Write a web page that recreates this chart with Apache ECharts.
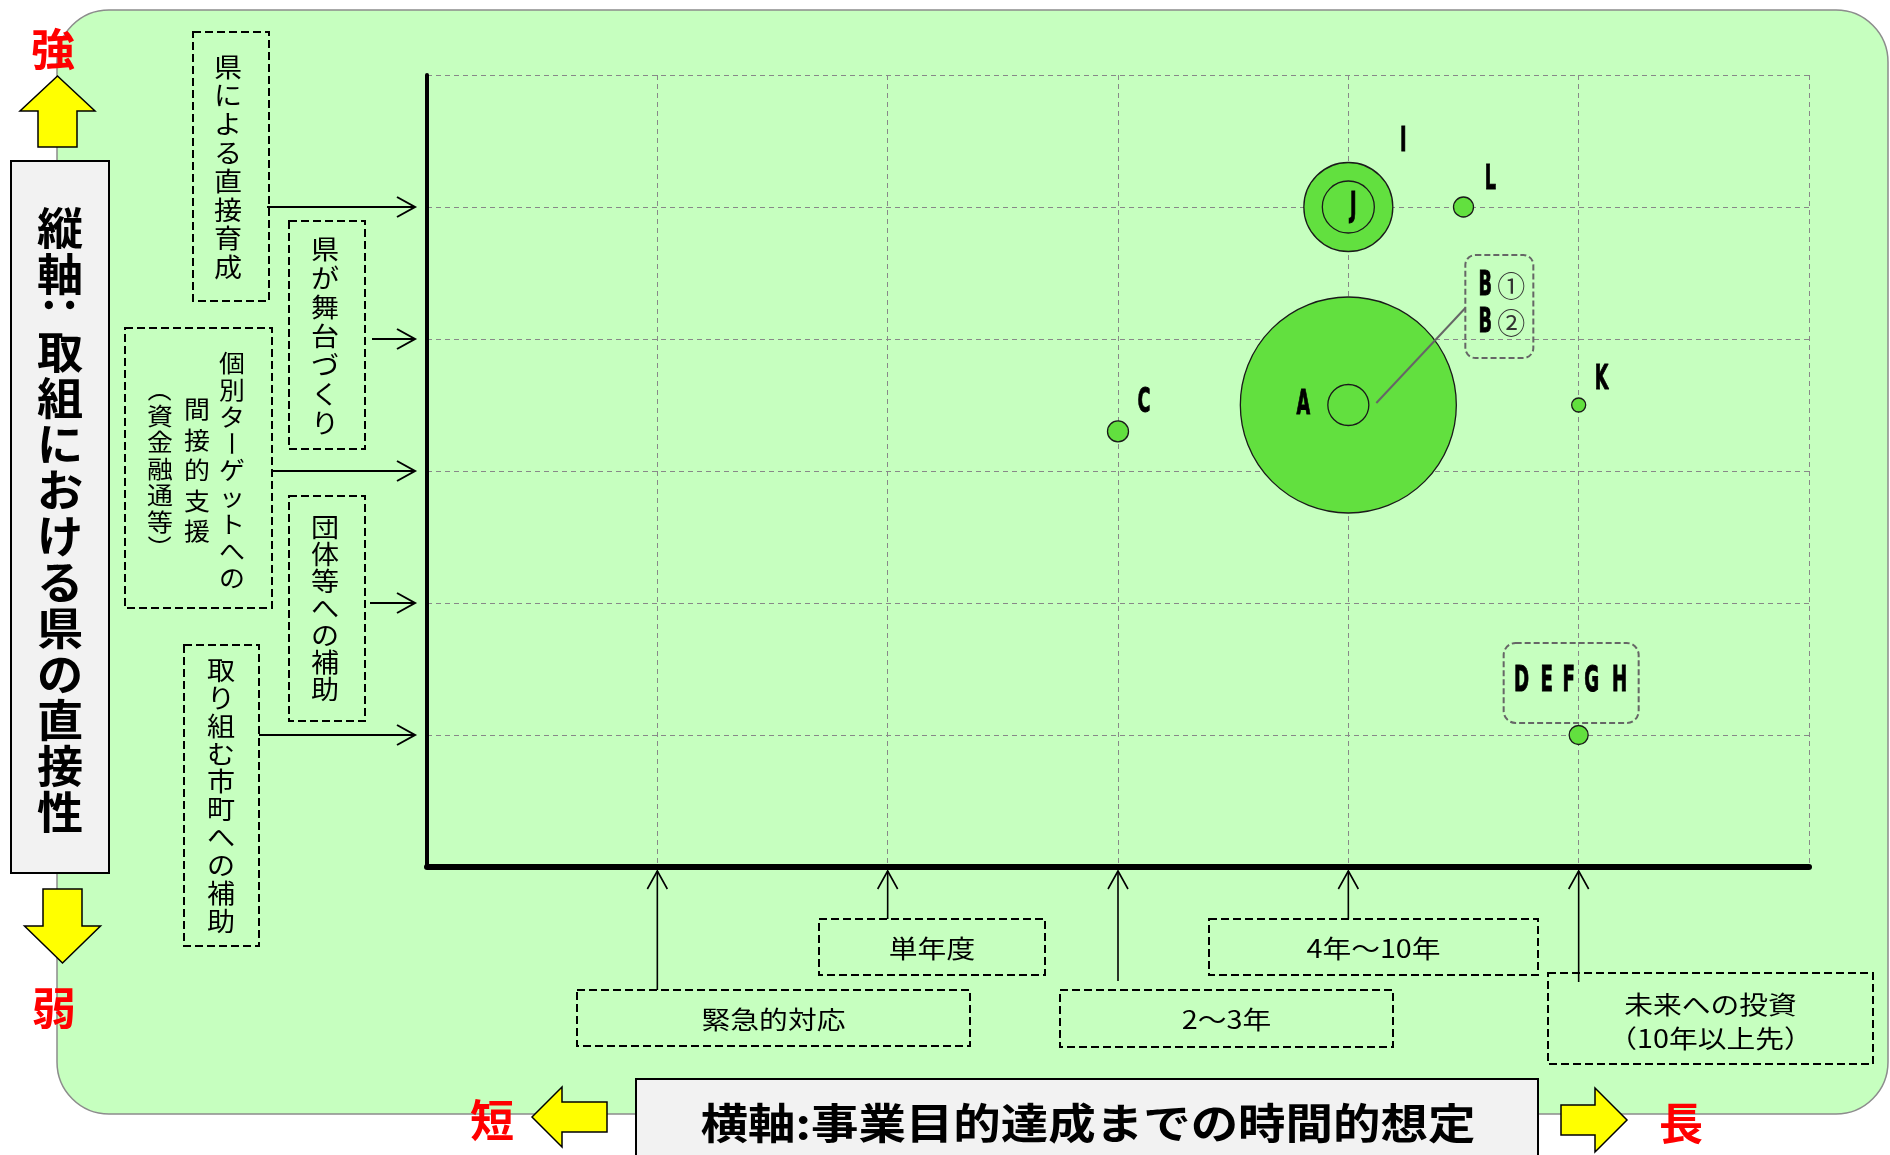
<!DOCTYPE html>
<html>
<head>
<meta charset="utf-8">
<title>事業の位置づけ</title>
<script src="https://cdn.jsdelivr.net/npm/echarts@6/dist/echarts.min.js"></script>
<style>
html, body { margin: 0; padding: 0; background: #fff; }
#main { width: 1890px; height: 1155px; }
</style>
</head>
<body>
<div id="main"></div>
<script>
// 各事業の位置：横軸＝事業目的達成までの時間、縦軸＝県の直接性
const names = ['A', 'I', 'B', 'J', 'C', 'L', 'K', 'DEFGH'];
const timeX = [4, 4, 4, 4, 3, 4.5, 5, 5];
const directY = [3.5, 5, 3.5, 5, 3.3, 5, 3.5, 1];
const bubbleSize = [216, 89, 41, 52, 21, 20, 14, 19];

// 目盛りの見出し（縦軸は下から 1..5、横軸は左から 1..5）
const directLevels = ['取り組む市町への補助', '団体等への補助', '個別ターゲットへの\n間接的支援\n（資金融通等）', '県が舞台づくり', '県による直接育成'];
const timeLevels = ['緊急的対応', '単年度', '2～3年', '4年～10年', '未来への投資\n（10年以上先）'];

const JP = '"Noto Sans CJK JP", sans-serif';
const GREEN = '#62E03F';

// ラベルの位置（点からのずらし量）
const labelAt = { A: [-45, 0], I: [55, -65], J: [5, 0], C: [26, -28], L: [27, -27], K: [23, -25] };

function letter(t, x, y, size) {
    return {
        type: 'text', x: x, y: y, scaleX: 0.52,
        style: {
            text: t, fontFamily: '"DejaVu Sans", sans-serif', fontWeight: 'bold', fontSize: size || 34,
            fill: '#000', stroke: '#000', lineWidth: 1, align: 'center', verticalAlign: 'middle'
        }
    };
}

function renderLabel(params, api) {
    const i = api.value(2);
    const name = names[i];
    const p = api.coord([api.value(0), api.value(1)]);
    if (name === 'B') {
        const circ = (t, y) => ({ type: 'text', x: p[0] + 163, y: y, style: { text: t, fontFamily: JP, fontSize: 28, fill: '#333', align: 'center', verticalAlign: 'middle' } });
        return {
            type: 'group',
            children: [
                { type: 'line', shape: { x1: p[0] + 28, y1: p[1] - 2, x2: p[0] + 117, y2: p[1] - 97 }, style: { stroke: '#666', lineWidth: 2 } },
                { type: 'rect', shape: { x: p[0] + 117, y: p[1] - 150, width: 68, height: 103, r: 10 }, style: { fill: 'none', stroke: '#666', lineWidth: 2, lineDash: [6, 3] } },
                letter('B', p[0] + 137, p[1] - 119),
                letter('B', p[0] + 137, p[1] - 82),
                circ('①', p[1] - 119),
                circ('②', p[1] - 82)
            ]
        };
    }
    if (name === 'DEFGH') {
        const dx = [-57, -32, -10, 13, 41];
        return {
            type: 'group',
            children: [
                { type: 'rect', shape: { x: p[0] - 75, y: p[1] - 92, width: 135, height: 80, r: 12 }, style: { fill: 'none', stroke: '#666', lineWidth: 2, lineDash: [6, 3] } }
            ].concat(name.split('').map((ch, k) => letter(ch, p[0] + dx[k], p[1] - 53, 35)))
        };
    }
    const off = labelAt[name];
    return letter(name, p[0] + off[0], p[1] + off[1]);
}

const option = {
    animation: false,
    backgroundColor: '#fff',
    grid: { left: 427, right: 81, top: 75, bottom: 288, outerBoundsMode: 'none' },
    xAxis: {
        type: 'value', min: 0, max: 6, interval: 1,
        axisLine: { show: true, onZero: false, lineStyle: { color: '#000', width: 6 } },
        axisTick: { show: false }, axisLabel: { show: false },
        splitLine: { show: true, lineStyle: { color: '#888', width: 1, type: [5, 4] } }
    },
    yAxis: {
        type: 'value', min: 0, max: 6, interval: 1,
        axisLine: { show: true, onZero: false, lineStyle: { color: '#000', width: 4 } },
        axisTick: { show: false }, axisLabel: { show: false },
        splitLine: { show: true, lineStyle: { color: '#888', width: 1, type: [5, 4] } }
    },
    series: [
        {
            type: 'scatter',
            silent: true,
            symbol: 'circle',
            symbolSize: v => v[2],
            data: names.map((n, i) => [timeX[i], directY[i], bubbleSize[i]]),
            itemStyle: { color: GREEN, borderColor: '#1a1a1a', borderWidth: 1.3, opacity: 1 },
            z: 3
        },
        {
            type: 'custom',
            silent: true,
            renderItem: renderLabel,
            data: names.map((n, i) => [timeX[i], directY[i], i]),
            encode: { x: 0, y: 1 },
            z: 5
        }
    ]
};

const chart = echarts.init(document.getElementById('main'));
chart.setOption(option);

const px = v => chart.convertToPixel({ xAxisIndex: 0 }, v);
const py = v => chart.convertToPixel({ yAxisIndex: 0 }, v);

function vChars(str, x, y0, step, size, weight, sx) {
    return str.split('').map((ch, k) => ({
        type: 'text', x: x, y: y0 + k * step,
        rotation: '（）ー～：'.indexOf(ch) >= 0 ? -Math.PI / 2 : 0,
        scaleX: sx || 1,
        style: { text: ch, fontFamily: JP, fontSize: size, fontWeight: weight || 'normal', fill: '#000', align: 'center', verticalAlign: 'middle' }
    }));
}
function hText(t, x, y, size, weight, color, sx) {
    return {
        type: 'text', x: x, y: y, scaleX: sx || 1,
        style: { text: t, fontFamily: JP, fontSize: size, fontWeight: weight || 'normal', fill: color || '#000', align: 'center', verticalAlign: 'middle' }
    };
}
function dashBox(b) {
    return { type: 'rect', shape: { x: b[0], y: b[1], width: b[2], height: b[3] }, style: { fill: 'none', stroke: '#000', lineWidth: 2, lineDash: [8, 4] } };
}
function arrowRight(x1, x2, y) {
    return [
        { type: 'line', shape: { x1: x1, y1: y, x2: x2, y2: y }, style: { stroke: '#000', lineWidth: 2 } },
        { type: 'polyline', shape: { points: [[x2 - 18, y - 10], [x2, y], [x2 - 18, y + 10]] }, style: { fill: 'none', stroke: '#000', lineWidth: 2 } }
    ];
}
function arrowUp(x, y1, y2) {
    return [
        { type: 'line', shape: { x1: x, y1: y1, x2: x, y2: y2 }, style: { stroke: '#000', lineWidth: 1.6 } },
        { type: 'polyline', shape: { points: [[x - 10, y2 + 18], [x, y2], [x + 10, y2 + 18]] }, style: { fill: 'none', stroke: '#000', lineWidth: 1.6 } }
    ];
}
function poly(points) {
    return { type: 'polygon', shape: { points: points }, style: { fill: '#FFFF00', stroke: '#000', lineWidth: 1.5 } };
}

// 縦軸の見出し枠：[枠], 各列[x, 最初の字のy, 字間], 矢印の始点x
const leftLayout = [
    { box: [184, 645, 75, 301], cols: [[221, 670, 27.9]], from: 259 },
    { box: [289, 496, 76, 225], cols: [[325, 527, 27]], from: 370 },
    { box: [125, 328, 147, 280], cols: [[232, 363, 26.8], [197, 409, 30.5], [160, 389, 26.5]], from: 272 },
    { box: [289, 221, 76, 228], cols: [[325, 249, 29]], from: 372 },
    { box: [193, 32, 76, 269], cols: [[228, 67, 28.6]], from: 267 }
];
// 横軸の見出し枠：[枠], 各行のy, 矢印の始点y
const bottomLayout = [
    { box: [577, 990, 393, 56], rows: [1019], from: 990 },
    { box: [819, 919, 226, 56], rows: [948], from: 919 },
    { box: [1060, 990, 333, 57], rows: [1019], from: 981 },
    { box: [1209, 919, 329, 56], rows: [948], from: 919 },
    { box: [1548, 973, 325, 91], rows: [1004, 1038], from: 982 }
];

let decor = [
    { type: 'rect', z: -10, shape: { x: 57, y: 10, width: 1831, height: 1104, r: 52 }, style: { fill: '#C6FFBF', stroke: '#8c8c8c', lineWidth: 1.5 } },
    // 縦軸タイトル
    { type: 'rect', shape: { x: 11, y: 161, width: 98, height: 712 }, style: { fill: '#F2F2F2', stroke: '#000', lineWidth: 2 } },
    poly([[57.5, 76], [95, 111], [77, 111], [77, 147], [38, 147], [38, 111], [20, 111]]),
    poly([[43, 889], [82, 889], [82, 926], [100.5, 926], [62.5, 963], [24.5, 926], [43, 926]]),
    hText('強', 53, 49, 44, 'bold', '#FF0000'),
    hText('弱', 54, 1008, 44, 'bold', '#FF0000'),
    // 横軸タイトル
    { type: 'rect', shape: { x: 636, y: 1079, width: 902, height: 90 }, style: { fill: '#F2F2F2', stroke: '#000', lineWidth: 2 } },
    hText('横軸:事業目的達成までの時間的想定', 1088, 1123, 42, 'bold', '#000', 1.13),
    poly([[532, 1117], [562, 1087], [562, 1102], [607, 1102], [607, 1132], [562, 1132], [562, 1147]]),
    poly([[1561, 1105], [1595, 1105], [1595, 1088], [1627, 1120], [1595, 1152], [1595, 1135], [1561, 1135]]),
    hText('短', 492, 1120, 44, 'bold', '#FF0000'),
    hText('長', 1681, 1123, 44, 'bold', '#FF0000')
];
decor = decor.concat(vChars('縦軸', 60, 228, 46, 44, 'bold', 1.05));
decor = decor.concat(vChars('：', 60, 305, 0, 44, 'bold'));
decor = decor.concat(vChars('取組における県の直接性', 60, 352, 46, 44, 'bold', 1.05));

directLevels.forEach((label, k) => {
    const L = leftLayout[k];
    decor.push(dashBox(L.box));
    label.split('\n').forEach((col, c) => {
        const cfg = L.cols[c];
        decor = decor.concat(vChars(col, cfg[0], cfg[1], cfg[2], L.cols.length > 1 ? 24 : 26, 'normal', 1.08));
    });
    decor = decor.concat(arrowRight(L.from, 415, py(k + 1)));
});

timeLevels.forEach((label, k) => {
    const L = bottomLayout[k];
    const cx = L.box[0] + L.box[2] / 2;
    decor.push(dashBox(L.box));
    label.split('\n').forEach((row, r) => {
        decor.push(hText(row, cx, L.rows[r], 25, 'normal', '#000', 1.15));
    });
    decor = decor.concat(arrowUp(px(k + 1), L.from, 871));
});

chart.setOption({ graphic: { elements: decor } });
</script>
</body>
</html>
